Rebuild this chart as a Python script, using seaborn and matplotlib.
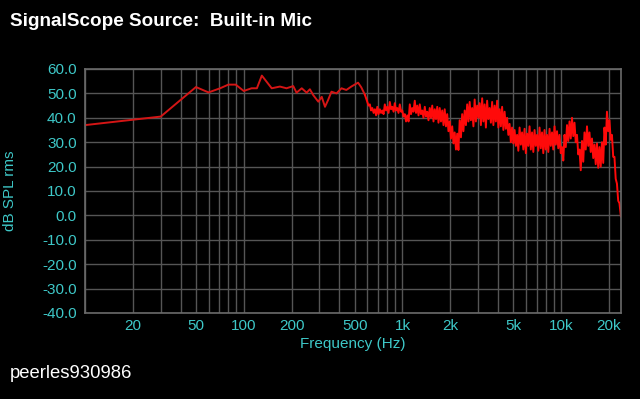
import numpy as np
import pandas as pd
import matplotlib
matplotlib.use("Agg")
import matplotlib.pyplot as plt
import seaborn as sns
from matplotlib.ticker import FixedLocator, NullFormatter

# ---- data (frequency in Hz, level in dB SPL rms) ----
# smooth low-frequency part of the trace
freq_low_hz = [10, 30, 50, 60, 71, 80, 89, 100, 112, 121, 130, 150, 169, 186,
               205, 215, 232, 249, 261, 274, 295, 310, 325, 340, 357, 384,
               413, 443, 476, 525, 550, 579]
level_low_db = [37.0, 40.5, 52.6, 50.4, 52.1, 53.6, 53.6, 51.0, 52.1, 52.1,
                57.3, 52.1, 52.8, 52.1, 53.0, 50.3, 52.1, 50.3, 51.7, 49.3,
                46.6, 48.6, 44.5, 47.3, 50.7, 50.0, 52.1, 51.4, 52.8, 54.4,
                52.5, 49.5]

# noisy high-frequency part: upper peaks and lower troughs of the trace
freq_peak_hz = [579, 600, 623, 646, 670, 694, 720, 746, 774, 802, 832, 863,
                894, 927, 962, 997, 1034, 1072, 1112, 1152, 1195, 1239, 1285,
                1332, 1382, 1432, 1485, 1540, 1597, 1656, 1717, 1780, 1845,
                1913, 1984, 2057, 2133, 2211, 2293, 2377, 2465, 2556, 2650,
                2748, 2849, 2954, 3063, 3176, 3293, 3414, 3540, 3671, 3806,
                3946, 4092, 4243, 4399, 4561, 4730, 4904, 5085, 5272, 5467,
                5668, 5877, 6094, 6318, 6551, 6793, 7043, 7303, 7572, 7851,
                8141, 8441, 8752, 9075, 9409, 9756, 10116, 10490, 10877,
                11278, 11694, 12125, 12572, 13036, 13517, 14015, 14532,
                15068, 15624, 16200, 16797, 17417, 18059, 18725, 19416,
                20132, 20874, 21644, 22442, 23269]
level_peak_db = [49.5, 46.5, 45.5, 44.0, 43.5, 44.5, 43.5, 43.0, 45.5, 44.5,
                 46.5, 44.5, 46.0, 44.0, 45.5, 43.0, 41.5, 41.0, 45.5, 44.0,
                 47.0, 45.0, 45.5, 43.0, 44.5, 42.5, 44.0, 45.0, 43.5, 44.5,
                 44.0, 43.0, 43.5, 41.5, 38.5, 36.5, 34.0, 33.5, 39.0, 41.5,
                 43.0, 45.5, 46.5, 44.0, 47.5, 45.0, 46.0, 48.0, 45.5, 47.0,
                 44.0, 46.5, 45.0, 47.0, 43.5, 44.5, 42.5, 40.0, 37.5, 36.0,
                 35.0, 33.0, 36.0, 34.0, 35.5, 33.5, 36.5, 34.0, 35.0, 33.0,
                 36.0, 34.0, 35.0, 33.0, 35.5, 34.0, 36.5, 34.5, 33.0, 28.0,
                 33.0, 37.0, 38.5, 40.0, 38.0, 33.0, 27.0, 30.5, 34.0, 36.5,
                 34.0, 31.5, 29.0, 29.5, 28.0, 30.0, 36.0, 42.5, 39.0, 33.0,
                 24.0, 13.0, 5.0]

freq_trough_hz = [590, 611, 634, 658, 682, 707, 733, 760, 788, 817, 847, 879,
                  910, 944, 980, 1015, 1053, 1092, 1132, 1173, 1217, 1262,
                  1308, 1356, 1407, 1458, 1512, 1568, 1626, 1686, 1748, 1813,
                  1879, 1948, 2020, 2095, 2172, 2251, 2335, 2420, 2510, 2603,
                  2698, 2798, 2901, 3008, 3119, 3234, 3353, 3476, 3605, 3738,
                  3876, 4018, 4167, 4321, 4479, 4644, 4816, 4994, 5178, 5368,
                  5567, 5772, 5984, 6205, 6433, 6671, 6917, 7172, 7436, 7710,
                  7994, 8290, 8595, 8912, 9241, 9581, 9934, 10301, 10682,
                  11076, 11484, 11908, 12347, 12802, 13274, 13764, 14271,
                  14798, 15343, 15909, 16496, 17104, 17735, 18389, 19067,
                  19771, 20500, 21256, 22040, 22852, 23770]
level_trough_db = [48.0, 45.0, 43.0, 42.0, 41.0, 41.5, 42.0, 41.5, 43.0, 42.0,
                   43.5, 42.5, 43.0, 42.0, 42.5, 40.5, 38.5, 38.5, 41.5, 42.5,
                   42.0, 41.0, 41.5, 40.0, 40.5, 39.0, 40.0, 38.5, 39.5, 38.0,
                   38.5, 37.0, 36.5, 34.5, 31.5, 29.5, 27.0, 26.8, 32.0, 34.5,
                   37.0, 38.5, 39.0, 36.5, 38.5, 40.0, 37.0, 38.5, 36.0, 39.5,
                   38.0, 37.0, 38.5, 36.0, 36.5, 35.0, 35.5, 33.0, 30.0, 29.5,
                   28.5, 26.5, 29.0, 27.0, 25.5, 28.5, 27.0, 26.0, 28.5, 26.5,
                   27.5, 25.5, 27.0, 26.0, 28.5, 27.0, 29.0, 27.5, 25.5, 22.5,
                   28.0, 30.5, 31.5, 32.5, 30.0, 25.0, 18.5, 22.0, 27.0, 28.5,
                   26.0, 23.5, 21.0, 19.5, 20.0, 21.5, 29.0, 34.5, 31.0, 24.0,
                   15.0, 6.0, -0.5, -3.0]

x_tick_values = [20, 50, 100, 200, 500, 1000, 2000, 5000, 10000, 20000]
x_tick_labels = ["20", "50", "100", "200", "500", "1k", "2k", "5k", "10k", "20k"]
y_tick_values = [-40, -30, -20, -10, 0, 10, 20, 30, 40, 50, 60]

title_text = "SignalScope Source:  Built-in Mic"
x_label = "Frequency (Hz)"
y_label = "dB SPL rms"
footer_text = "peerles930986"

# ---- styling ----
sns.set_style("dark")
plt.rcParams["font.family"] = ["Liberation Sans", "DejaVu Sans"]
CYAN = "#3ec8c8"
GRID = "#555555"
RED_THIN = "#d41515"
RED = "#ff0a0a"

df_low = pd.DataFrame({"freq": freq_low_hz, "level": level_low_db})
hf_freq, hf_level = [], []
for i in range(len(freq_trough_hz)):
    if i < len(freq_peak_hz):
        hf_freq.append(freq_peak_hz[i])
        hf_level.append(level_peak_db[i])
    hf_freq.append(freq_trough_hz[i])
    hf_level.append(level_trough_db[i])
df_high = pd.DataFrame({"freq": hf_freq, "level": hf_level})

fig = plt.figure(figsize=(6.4, 3.99), dpi=100, facecolor="black")
ax = fig.add_axes([85 / 640, 1 - 313 / 399, (621 - 85) / 640, (313 - 69) / 399])
ax.set_facecolor("black")

sns.lineplot(data=df_low, x="freq", y="level", ax=ax, color=RED_THIN,
             linewidth=1.4, estimator=None, sort=False)
sns.lineplot(data=df_high, x="freq", y="level", ax=ax, color=RED,
             linewidth=1.4, estimator=None, sort=False)

ax.set_xscale("log")
ax.set_xlim(10, 23800)
ax.set_ylim(-40, 60)

minor_grid = [m * 10 ** e for e in range(1, 5) for m in range(1, 10)]
ax.xaxis.set_minor_locator(FixedLocator(minor_grid))
ax.xaxis.set_minor_formatter(NullFormatter())
ax.set_xticks(x_tick_values)
ax.set_xticklabels(x_tick_labels)
ax.set_yticks(y_tick_values)
ax.set_yticklabels([f"{v:.1f}" for v in y_tick_values])

ax.grid(True, which="both", axis="x", color=GRID, linewidth=1.0)
ax.grid(True, which="major", axis="y", color=GRID, linewidth=1.0)
ax.set_axisbelow(True)
for s in ax.spines.values():
    s.set_visible(True)
    s.set_color("#6a6a6a")
    s.set_linewidth(1.2)

ax.tick_params(axis="both", which="both", length=0, colors=CYAN, labelsize=11)
ax.tick_params(axis="y", pad=6)
ax.tick_params(axis="x", pad=4)

ax.set_xlabel(x_label, color=CYAN, fontsize=11, labelpad=3)
ax.set_ylabel("")
fig.text(10 / 640, 1 - 191 / 399, y_label, color=CYAN, fontsize=11,
         rotation=90, ha="center", va="center")

fig.text(10 / 640, 1 - 22 / 399, title_text, color="white", fontsize=13.6,
         fontweight="bold", ha="left", va="center")
fig.text(10 / 640, 1 - 373 / 399, footer_text, color="white", fontsize=13.3,
         ha="left", va="center")

fig.savefig("out.png", dpi=100, facecolor="black")
